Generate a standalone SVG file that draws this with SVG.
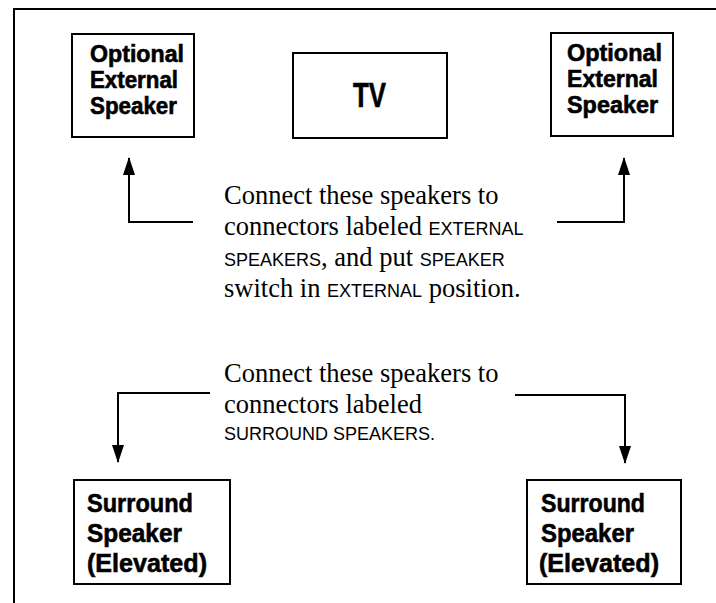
<svg xmlns="http://www.w3.org/2000/svg" width="716" height="603" viewBox="0 0 716 603">
<style>
.frame{fill:none;stroke:#000;stroke-width:2}
.box{fill:#fff;stroke:#000;stroke-width:2}
.lbl{font-family:"Liberation Sans",Arial,sans-serif;font-weight:bold;fill:#000;stroke:#000;stroke-width:0.6}
.body{font-family:"Liberation Serif","Times New Roman",serif;font-size:26.5px;fill:#000}
.sc{font-family:"Liberation Sans",Arial,sans-serif;font-size:18px}
.conn{fill:none;stroke:#000;stroke-width:2}
</style>
<defs>
<marker id="ah" viewBox="0 0 18 12" refX="17" refY="6" markerWidth="18" markerHeight="12" markerUnits="userSpaceOnUse" orient="auto">
<path d="M0,0 L18,6 L0,12 Z" fill="#000"/>
</marker>
</defs>
<rect width="716" height="603" fill="#fff"/>
<path class="frame" d="M14,603 L14,9 L716,9"/>
<g id="ext-left">
<rect class="box" x="72" y="34" width="122" height="103"/>
<text class="lbl" font-size="23.5"><tspan x="90" y="62" textLength="94" lengthAdjust="spacingAndGlyphs">Optional</tspan><tspan x="90" y="88" textLength="88" lengthAdjust="spacingAndGlyphs">External</tspan><tspan x="90" y="114" textLength="87" lengthAdjust="spacingAndGlyphs">Speaker</tspan></text>
</g>
<g id="tv">
<rect class="box" x="293" y="53" width="154" height="85"/>
<text class="lbl" font-size="35" x="353" y="107" textLength="33" lengthAdjust="spacingAndGlyphs">TV</text>
</g>
<g id="ext-right">
<rect class="box" x="551" y="33" width="122" height="103"/>
<text class="lbl" font-size="23.5"><tspan x="567" y="61" textLength="95" lengthAdjust="spacingAndGlyphs">Optional</tspan><tspan x="567" y="87" textLength="91" lengthAdjust="spacingAndGlyphs">External</tspan><tspan x="567" y="113" textLength="91" lengthAdjust="spacingAndGlyphs">Speaker</tspan></text>
</g>
<g id="sur-left">
<rect class="box" x="74" y="480" width="156" height="104"/>
<text class="lbl" font-size="26.5"><tspan x="87" y="512" textLength="106" lengthAdjust="spacingAndGlyphs">Surround</tspan><tspan x="87" y="542" textLength="95" lengthAdjust="spacingAndGlyphs">Speaker</tspan><tspan x="87" y="572" textLength="120" lengthAdjust="spacingAndGlyphs">(Elevated)</tspan></text>
</g>
<g id="sur-right">
<rect class="box" x="527" y="480" width="154" height="104"/>
<text class="lbl" font-size="26.5"><tspan x="541" y="512" textLength="104" lengthAdjust="spacingAndGlyphs">Surround</tspan><tspan x="541" y="542" textLength="93" lengthAdjust="spacingAndGlyphs">Speaker</tspan><tspan x="539" y="572" textLength="120" lengthAdjust="spacingAndGlyphs">(Elevated)</tspan></text>
</g>
<g id="note-top">
<text class="body"><tspan x="224" y="204">Connect these speakers to</tspan><tspan x="224" y="235">connectors labeled <tspan class="sc">EXTERNAL</tspan></tspan><tspan x="224" y="266"><tspan class="sc">SPEAKERS</tspan>, and put <tspan class="sc">SPEAKER</tspan></tspan><tspan x="224" y="297">switch in <tspan class="sc">EXTERNAL</tspan> position.</tspan></text>
</g>
<g id="note-bottom">
<text class="body"><tspan x="224" y="382">Connect these speakers to</tspan><tspan x="224" y="413">connectors labeled</tspan><tspan x="224" y="440" class="sc">SURROUND SPEAKERS.</tspan></text>
</g>
<g id="connectors">
<path class="conn" d="M193,222 L129,222 L129,158" marker-end="url(#ah)"/>
<path class="conn" d="M557,222 L624,222 L624,158" marker-end="url(#ah)"/>
<path class="conn" d="M210,393 L118,393 L118,462" marker-end="url(#ah)"/>
<path class="conn" d="M515,395 L625,395 L625,463" marker-end="url(#ah)"/>
</g>
</svg>
